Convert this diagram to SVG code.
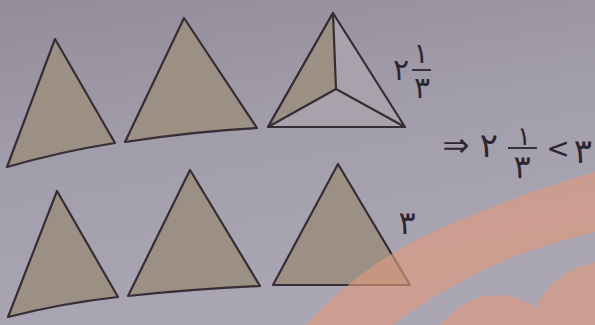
<svg xmlns="http://www.w3.org/2000/svg" width="595" height="325" viewBox="0 0 595 325">
<defs>
<linearGradient id="bg" x1="0" y1="0" x2="0.3" y2="1">
<stop offset="0" stop-color="#938c9b"/>
<stop offset="0.5" stop-color="#a39eab"/>
<stop offset="1" stop-color="#aaa6b4"/>
</linearGradient>
</defs>
<style>
.tri{fill:#9c8f83;stroke:#362e34;stroke-width:2.2;stroke-linejoin:round}
.face{fill:#a8a2ad;stroke:#362e34;stroke-width:2.2;stroke-linejoin:round}
.edge{fill:none;stroke:#362e34;stroke-width:2.2;stroke-linecap:round}
.t{font-family:"DejaVu Sans","Noto Sans",sans-serif;fill:#2c2630;text-anchor:middle}
.bar{stroke:#2c2630;stroke-width:1.8}
.band{fill:#de9a7e;opacity:0.65}
</style>
<rect width="595" height="325" fill="url(#bg)"/>
<g id="tri1"><path class="tri" d="M55,39 L115,143 Q61,151.5 7,167 Z"/></g>
<g id="tri2"><path class="tri" d="M184,18 L257,128 Q191,131.5 125,142 Z"/></g>
<g id="tri3">
<path class="face" d="M333,13 L405,127 L268,127 Z"/>
<path class="tri" d="M333,13 L336,89 L268,127 Z"/>
<path class="edge" d="M336,89 L405,127"/>
</g>
<g id="label-top">
<text class="t" x="401" y="80" font-size="30">۲</text>
<text class="t" x="421" y="63" font-size="28">۱</text>
<line class="bar" x1="412" y1="70" x2="431" y2="70"/>
<text class="t" x="422" y="98" font-size="30">۳</text>
</g>
<g id="result">
<text class="t" x="456" y="156" font-size="32">⇒</text>
<text class="t" x="489" y="157" font-size="34">۲</text>
<text class="t" x="524" y="145" font-size="26">۱</text>
<line class="bar" x1="508" y1="148" x2="537" y2="148"/>
<text class="t" x="522" y="178" font-size="32">۳</text>
<text class="t" x="558" y="158" font-size="28">&lt;</text>
<text class="t" x="583" y="163" font-size="34">۳</text>
</g>
<g id="tri4"><path class="tri" d="M57,191 L118,297 Q63,303 8,317 Z"/></g>
<g id="tri5"><path class="tri" d="M190,170 L260,286 Q194,289 128,296 Z"/></g>
<g id="tri6"><path class="tri" d="M338,164 L410,285 L273,285 Z"/></g>
<g id="label-bottom">
<text class="t" x="407" y="234" font-size="32">۳</text>
</g>
<g id="decoration">
<path class="band" d="M305,325 Q360,268 420,238 Q500,200 595,172 L595,232 Q520,250 470,277 Q425,300 393,325 Z"/>
<path class="band" d="M440,325 Q465,296 495,295 Q520,295 535,308 Q555,270 595,262 L595,325 Z"/>
</g>
</svg>
